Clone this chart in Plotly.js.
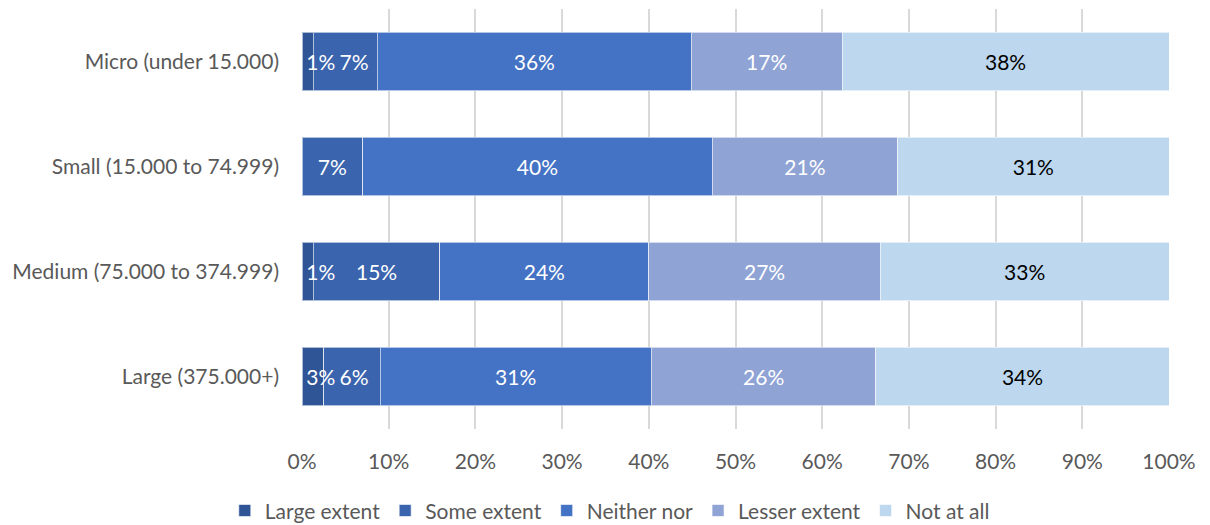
<!DOCTYPE html>
<html><head><meta charset="utf-8">
<script src="https://cdn.plot.ly/plotly-3.0.1.min.js"></script>
<style>body{margin:0;background:#fff}#c{width:1210px;height:525px}</style>
</head><body><div id="c"></div>
<script>
const categories = ["Micro (under 15.000)", "Small (15.000 to 74.999)", "Medium (75.000 to 374.999)", "Large (375.000+)"];
const seriesNames = ["Large extent", "Some extent", "Neither nor", "Lesser extent", "Not at all"];
const largeExtent = [1.3, 0, 1.3, 2.5];
const someExtent = [7.4, 7.0, 14.6, 6.5];
const neitherNor = [36.2, 40.3, 24.1, 31.3];
const lesserExtent = [17.4, 21.4, 26.7, 25.9];
const notAtAll = [37.7, 31.3, 33.3, 33.8];
const largeLabels = ["1%", "", "1%", "3%"];
const someLabels = ["7%", "7%", "15%", "6%"];
const neitherLabels = ["36%", "40%", "24%", "31%"];
const lesserLabels = ["17%", "21%", "27%", "26%"];
const notLabels = ["38%", "31%", "33%", "34%"];
const tickVals = [0,10,20,30,40,50,60,70,80,90,100];
const tickText = ["0%","10%","20%","30%","40%","50%","60%","70%","80%","90%","100%"];

const colors = ["#2F5597", "#3A64AD", "#4472C4", "#8FA3D5", "#BDD7EE"];
const textColors = ["#fff", "#fff", "#fff", "#fff", "#000"];
const vals = [largeExtent, someExtent, neitherNor, lesserExtent, notAtAll];
const labs = [largeLabels, someLabels, neitherLabels, lesserLabels, notLabels];
const font = "Lato, 'Open Sans', sans-serif";
const fs = 21;
const labelPad = 0.5;      // offset (in % units) of the thin-segment labels from the axis start
const minSecondCenter = 6; // label-collision rule: 2nd label centre kept clear of the 1st label
const textNudge = 0.035;   // vertical nudge (category units) so overlay text lines up with bar text

const traces = seriesNames.map((n, i) => ({
  type: "bar", orientation: "h", name: n,
  y: categories, x: vals[i], text: i < 2 ? null : labs[i],
  textposition: i < 2 ? "none" : "inside", insidetextanchor: "middle", constraintext: "none", textangle: 0,
  textfont: {family: font, size: fs, color: textColors[i]},
  marker: {color: colors[i], line: {color: "rgba(255,255,255,0.6)", width: 1}},
  hoverinfo: "x+name"
}));
// overlay labels live on a hidden numeric axis aligned with the category axis
const textY = categories.map((c, i) => i + textNudge);
traces.push({
  type: "scatter", mode: "text", showlegend: false, hoverinfo: "skip", yaxis: "y2",
  y: textY, x: largeExtent.map(() => labelPad), text: largeLabels,
  textposition: "middle right", cliponaxis: false,
  textfont: {family: font, size: fs, color: "#fff"}
});
traces.push({
  type: "scatter", mode: "text", showlegend: false, hoverinfo: "skip", yaxis: "y2",
  y: textY,
  x: someExtent.map((s, i) => {
    const mid = largeExtent[i] + s / 2;
    return largeLabels[i] ? Math.max(mid, minSecondCenter) : mid;
  }),
  text: someLabels, textposition: "middle center", cliponaxis: false,
  textfont: {family: font, size: fs, color: "#fff"}
});

const layout = {
  barmode: "stack", bargap: 0.44,
  margin: {l: 302, r: 41, t: 9, b: 96},
  paper_bgcolor: "#fff", plot_bgcolor: "#fff",
  font: {family: font, size: fs, color: "#595959"},
  xaxis: {range: [0, 100], tickvals: tickVals, ticktext: tickText, showgrid: true,
    gridcolor: "#D9D9D9", gridwidth: 2, zeroline: false, showline: false, ticks: "",
    ticklabelstandoff: 18, tickfont: {family: font, size: fs, color: "#595959"}, fixedrange: true},
  yaxis: {type: "category", autorange: "reversed", showgrid: false, zeroline: false, showline: false, ticks: "",
    ticklabelstandoff: 22, tickfont: {family: font, size: fs, color: "#595959"}, fixedrange: true},
  yaxis2: {type: "linear", overlaying: "y", range: [categories.length - 0.5, -0.5], visible: false,
    showgrid: false, zeroline: false, fixedrange: true},
  legend: {orientation: "h", x: 0.355, xanchor: "center", yref: "container", y: 0.027, yanchor: "middle",
    font: {family: font, size: fs, color: "#595959"}, traceorder: "normal", itemwidth: 30},
  showlegend: true
};
Plotly.newPlot("c", traces, layout, {displayModeBar: false, staticPlot: true});
</script></body></html>
